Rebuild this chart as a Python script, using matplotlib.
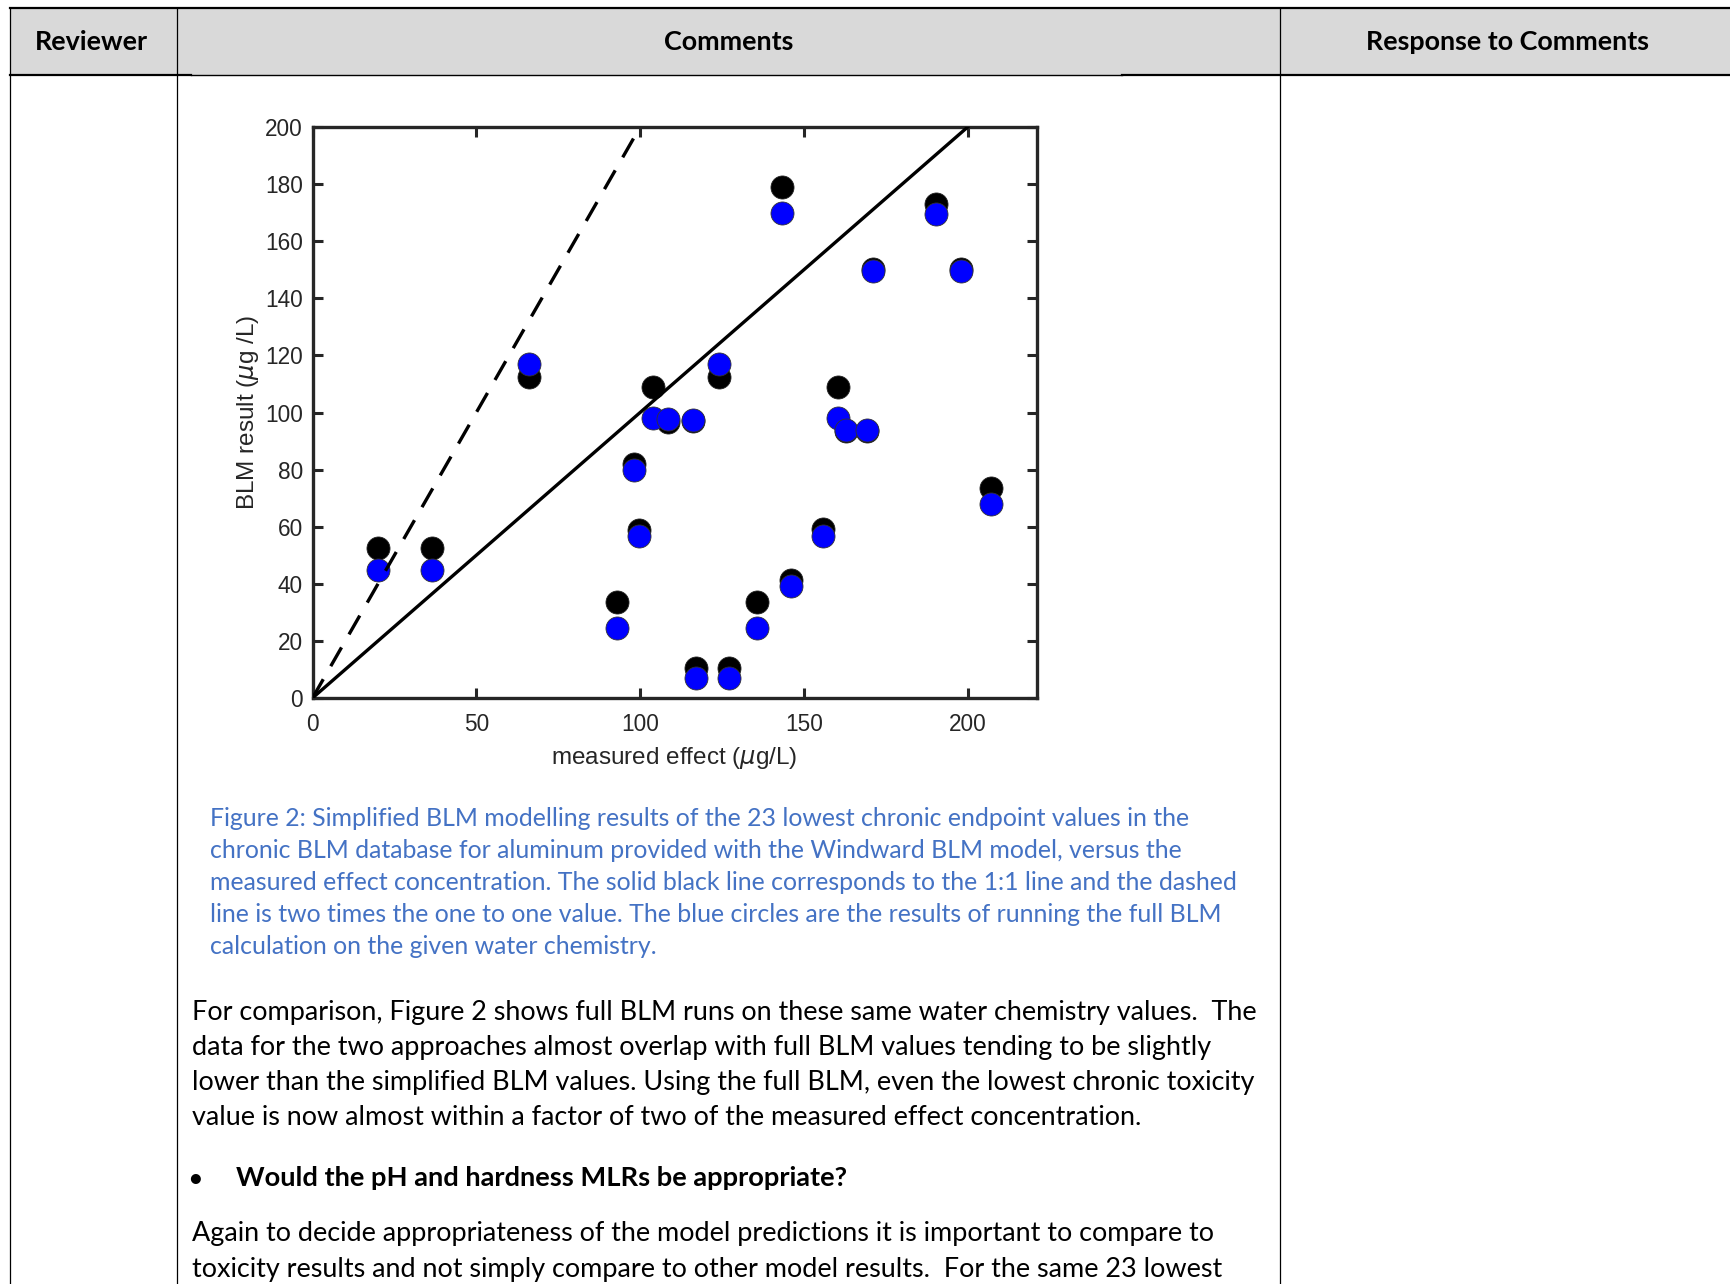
import matplotlib
matplotlib.use("Agg")
import matplotlib.pyplot as plt
from matplotlib.patches import Rectangle
from matplotlib.font_manager import FontProperties
from matplotlib.textpath import TextPath

W, H, DPI = 1730, 1284, 100

# scatter data
measured = [20, 36.5, 66, 93, 98, 99.7, 104, 108.5, 116, 117, 124, 127.2,
            135.8, 143.3, 146.2, 155.7, 160.5, 163, 169.2, 171, 190.3, 198.1, 207.1]
simplified_blm = [52.6, 52.6, 112.3, 33.6, 81.9, 58.7, 108.8, 96.8, 97, 10.5, 112.3, 10.5,
                  33.6, 179, 41.5, 59.1, 108.8, 93.5, 93.5, 150.3, 173.1, 150.3, 73.5]
full_blm = [45, 45, 117, 24.6, 79.9, 56.7, 98, 97.6, 97.3, 7, 117, 7,
            24.6, 170, 39.2, 56.7, 98.2, 93.9, 93.9, 149.4, 169.4, 149.4, 67.9]
one_to_one_x = [0, 200]
one_to_one_y = [0, 200]
two_to_one_x = [0, 100]
two_to_one_y = [0, 200]
x_ticks = [0, 50, 100, 150, 200]
y_ticks = list(range(0, 201, 20))

headers = ["Reviewer", "Comments", "Response to Comments"]
caption_lines = [
    "Figure 2: Simplified BLM modelling results of the 23 lowest chronic endpoint values in the",
    "chronic BLM database for aluminum provided with the Windward BLM model, versus the",
    "measured effect concentration. The solid black line corresponds to the 1:1 line and the dashed",
    "line is two times the one to one value. The blue circles are the results of running the full BLM",
    "calculation on the given water chemistry.",
]
body_lines = [
    "For comparison, Figure 2 shows full BLM runs on these same water chemistry values.  The",
    "data for the two approaches almost overlap with full BLM values tending to be slightly",
    "lower than the simplified BLM values. Using the full BLM, even the lowest chronic toxicity",
    "value is now almost within a factor of two of the measured effect concentration.",
]
question = "Would the pH and hardness MLRs be appropriate?"
last_lines = [
    "Again to decide appropriateness of the model predictions it is important to compare to",
    "toxicity results and not simply compare to other model results.  For the same 23 lowest",
]

TEXT_FONT = "Lato"
AX_FONT = "Liberation Sans"
CAPTION_BLUE = "#4472C4"
AX_GREY = "#262626"


def fit_size(text, width_px, weight="normal"):
    # pick the font size that makes a line as wide as in the scanned page
    prop = FontProperties(family=TEXT_FONT, weight=weight)
    w = TextPath((0, 0), text, size=1, prop=prop).get_extents().width
    return width_px / (w * DPI / 72)


fig = plt.figure(figsize=(W / DPI, H / DPI), dpi=DPI)
page = fig.add_axes([0, 0, 1, 1])
page.set_xlim(0, W)
page.set_ylim(H, 0)
page.axis("off")

# table frame
page.add_patch(Rectangle((9.5, 7.5), W - 9.5, 67, facecolor="#d9d9d9", edgecolor="none"))
page.plot([9.5, W], [7.5, 7.5], color="black", lw=1.6)
page.plot([9.5, 191], [74.5, 74.5], color="black", lw=1.6)
page.plot([191, 1122], [74.5, 74.5], color="black", lw=1.0)
page.plot([1122, W], [74.5, 74.5], color="black", lw=1.6)
for xc in [9.5, 177, 1280]:
    page.plot([xc, xc], [7.5, H], color="black", lw=0.9)

head_size = fit_size("Reviewer", 111, "bold")
for label, xc in zip(headers, [91.5, 728.5, 1508]):
    page.text(xc, 50, label, ha="center", va="baseline", fontsize=head_size,
              fontweight="bold", family=TEXT_FONT, color="black")

# caption
cap_size = fit_size(caption_lines[2], 1024)
for i, line in enumerate(caption_lines):
    page.text(209.5, 826 + i * 32.0, line, ha="left", va="baseline",
              fontsize=cap_size, family=TEXT_FONT, color=CAPTION_BLUE)

# body text
body_size = fit_size(body_lines[0], 1062)
for i, line in enumerate(body_lines):
    page.text(192, 1020 + i * 35, line, ha="left", va="baseline",
              fontsize=body_size, family=TEXT_FONT, color="black")

q_size = fit_size(question, 612, "bold")
page.text(195, 1186.5, "\u2022", ha="center", va="baseline", fontsize=body_size,
          family=TEXT_FONT, color="black")
page.text(236, 1186.5, question, ha="left", va="baseline", fontsize=q_size,
          fontweight="bold", family=TEXT_FONT, color="black")

for i, line in enumerate(last_lines):
    page.text(192, 1241.5 + i * 35, line, ha="left", va="baseline",
              fontsize=body_size, family=TEXT_FONT, color="black")

# chart
ax_left, ax_right, ax_top, ax_bottom = 312.5, 1036.5, 127, 698
ax = fig.add_axes([ax_left / W, 1 - ax_bottom / H,
                   (ax_right - ax_left) / W, (ax_bottom - ax_top) / H])
ax.scatter(measured, simplified_blm, s=275, color="black", edgecolors="#222222",
           linewidths=0.6, zorder=2, clip_on=False)
ax.scatter(measured, full_blm, s=275, color="#0000ff", edgecolors="#333333",
           linewidths=0.6, zorder=3, clip_on=False)
ax.plot(one_to_one_x, one_to_one_y, color="black", lw=2.4, zorder=4)
ax.plot(two_to_one_x, two_to_one_y, color="black", lw=2.4,
        linestyle=(0, (6.5, 4.5)), zorder=4)

ax.set_xlim(0, 221)
ax.set_ylim(0, 200)
ax.set_xticks(x_ticks)
ax.set_yticks(y_ticks)
for sp in ax.spines.values():
    sp.set_linewidth(2.4)
    sp.set_color(AX_GREY)
ax.tick_params(direction="in", top=True, right=True, length=7, width=2.2,
               color=AX_GREY, labelcolor=AX_GREY, labelsize=16.3)
ax.tick_params(axis="x", pad=11)
ax.tick_params(axis="y", pad=7)
for lab in ax.get_xticklabels() + ax.get_yticklabels():
    lab.set_family(AX_FONT)
ax.set_xlabel(r"measured effect ($\mu$g/L)", fontsize=17.5, family=AX_FONT,
              color=AX_GREY, labelpad=6)
ax.set_ylabel(r"BLM result ($\mu$g /L)", fontsize=17.5, family=AX_FONT,
              color=AX_GREY, labelpad=3)

fig.savefig("out.png", dpi=DPI)
